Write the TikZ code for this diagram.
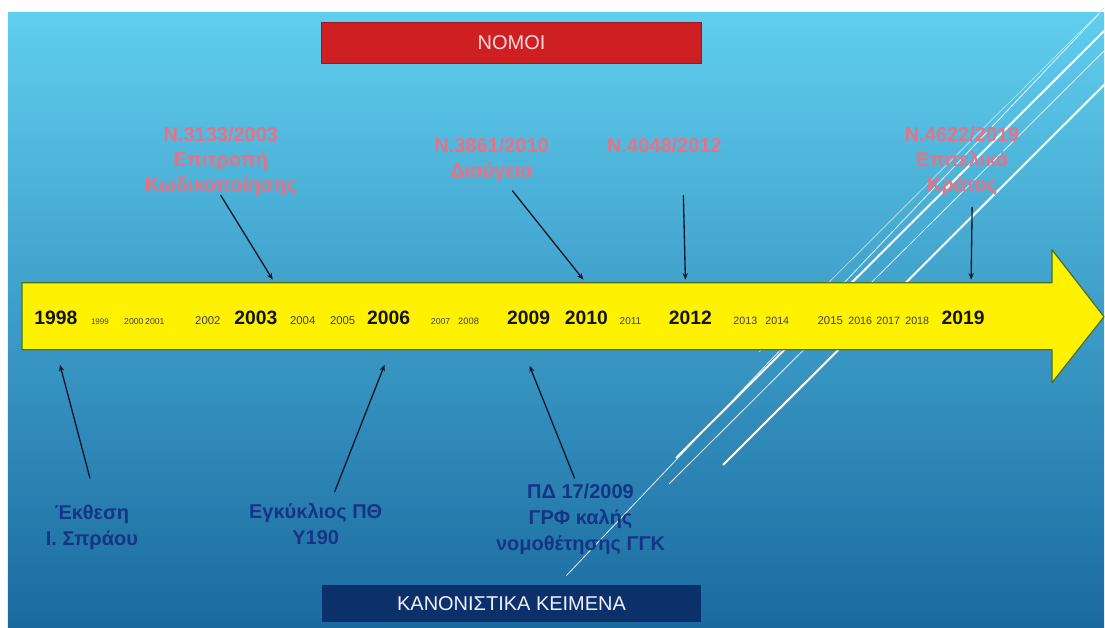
\documentclass[tikz,border=0pt]{standalone}
\usepackage{fontspec}
\setmainfont{Liberation Sans}
\usetikzlibrary{arrows.meta,positioning,shapes,calc}
\definecolor{slideTop}{RGB}{96,206,238}
\definecolor{slideMid}{RGB}{58,160,212}
\definecolor{slideBot}{RGB}{26,106,160}
\definecolor{lawPink}{RGB}{234,112,132}
\definecolor{docNavy}{RGB}{22,52,132}
\definecolor{boxRed}{RGB}{206,32,34}
\definecolor{boxNavy}{RGB}{12,48,106}
\definecolor{arrowEdge}{RGB}{72,112,40}
\definecolor{ptrInk}{RGB}{16,24,44}

\begin{document}
\begin{tikzpicture}[x=0.75pt, y=-0.75pt, line cap=round, line join=round,
    law/.style={text=lawPink, font=\bfseries\fontsize{15}{18.75}\selectfont, align=center, inner sep=0pt},
    doc/.style={text=docNavy, font=\bfseries\fontsize{15}{19.5}\selectfont, align=center, inner sep=0pt},
    bigyr/.style={anchor=base, font=\bfseries\fontsize{14.5}{16}\selectfont, text=black!92, inner sep=0pt},
    yr/.style={anchor=base, font=\fontsize{#1}{#1}\selectfont, text=black!75, inner sep=0pt},
    hdrbox/.style={minimum width=285pt, minimum height=#1, inner sep=0pt, font=\fontsize{15}{18}\selectfont},
    ptr/.style={draw=ptrInk, line width=1pt, -{Stealth[length=5pt,width=4pt]}},
    trail/.style={draw=white, line width=#1}]
        % slide background
        \fill[white] (0,0) rectangle (1105,628);
        \shade[top color=slideTop, middle color=slideMid, bottom color=slideBot] (8,13) rectangle (1105,628);
        % theme trails
        \draw[trail=1.5pt] (677,458) -- (1105,31);
        \draw[trail=1.5pt] (724,465) -- (1105,85);
        \draw[trail=0.6pt, white!85!slideMid] (567,576) -- (1100,14);
        \draw[trail=0.6pt, white!85!slideMid] (670,484) -- (1105,51);
        \draw[trail=0.5pt, white!70!slideMid] (760,352) -- (1105,8);
        % headers
        \node (nomoi) [hdrbox=30.75pt, fill=boxRed, draw=boxRed!75!black, text=red!15!white] at (512,42.5) {ΝΟΜΟΙ};
        \node (kanon) [hdrbox=27.75pt, fill=boxNavy, text=blue!6!white] at (512,604.5) {ΚΑΝΟΝΙΣΤΙΚΑ ΚΕΙΜΕΝΑ};
        % timeline arrow
        \draw[fill=yellow, draw=arrowEdge, line width=0.9pt]
            (22,283) -- (1053,283) -- (1053,250) -- (1105,317) -- (1053,383) -- (1053,350) -- (22,350) -- cycle;
        % years
        \node (y1998) [bigyr] at (56,325) {1998};
        \node (y1999) [yr=6] at (100,325) {1999};
        \node (y2000) [yr=6.5] at (134,325) {2000};
        \node (y2001) [yr=6.5] at (155,325) {2001};
        \node (y2002) [yr=8.5] at (208,325) {2002};
        \node (y2003) [bigyr] at (256,325) {2003};
        \node (y2004) [yr=8.5] at (303,325) {2004};
        \node (y2005) [yr=8.5] at (343,325) {2005};
        \node (y2006) [bigyr] at (389,325) {2006};
        \node (y2007) [yr=6.5] at (441,325) {2007};
        \node (y2008) [yr=7] at (469,325) {2008};
        \node (y2009) [bigyr] at (529,325) {2009};
        \node (y2010) [bigyr] at (587,325) {2010};
        \node (y2011) [yr=7.5] at (631,325) {2011};
        \node (y2012) [bigyr] at (691,325) {2012};
        \node (y2013) [yr=8] at (746,325) {2013};
        \node (y2014) [yr=8] at (778,325) {2014};
        \node (y2015) [yr=8.5] at (831,325) {2015};
        \node (y2016) [yr=8] at (861,325) {2016};
        \node (y2017) [yr=8] at (889,325) {2017};
        \node (y2018) [yr=8] at (918,325) {2018};
        \node (y2019) [bigyr] at (964,325) {2019};
        % laws above
        \node (l2003) [law] at (221,161) {Ν.3133/2003\\Επιτροπή\\Κωδικοποίησης};
        \node (l2010) [law] at (492,160) {Ν.3861/2010\\Διαύγεια};
        \node (l2012) [law] at (665,146) {Ν.4048/2012};
        \node (l2019) [law] at (963,161) {Ν.4622/2019\\Επιτελικό\\Κράτος};
        % texts below
        \node (d1998) [doc] at (92,528) {Έκθεση\\Ι. Σπράου};
        \node (d2006) [doc] at (316,525) {Εγκύκλιος ΠΘ\\Υ190};
        \node (d2009) [doc] at (581,520) {ΠΔ 17/2009\\ΓΡΦ καλής\\νομοθέτησης ΓΓΚ};
        % arrow ends on the timeline
        \coordinate (t2003) at (273,280);
        \coordinate (t2010) at (584,280);
        \coordinate (t2012) at (686,280);
        \coordinate (t2019) at (972,280);
        \coordinate (b1998) at (60,365);
        \coordinate (b2006) at (385,365);
        \coordinate (b2009) at (530,366);
        \draw[ptr] (l2003.south) -- (t2003);
        \draw[ptr] ([shift={(21,9)}]l2010.south) -- (t2010);
        \draw[ptr] ([shift={(19,42)}]l2012.south) -- (t2012);
        \draw[ptr] ([shift={(10,12)}]l2019.south) -- (t2019);
        \draw[ptr] ([shift={(-2,-27)}]d1998.north) -- (b1998);
        \draw[ptr] ([shift={(19,-12)}]d2006.north) -- (b2006);
        \draw[ptr] ([shift={(-6,-6)}]d2009.north) -- (b2009);
    \end{tikzpicture}
\end{document}
